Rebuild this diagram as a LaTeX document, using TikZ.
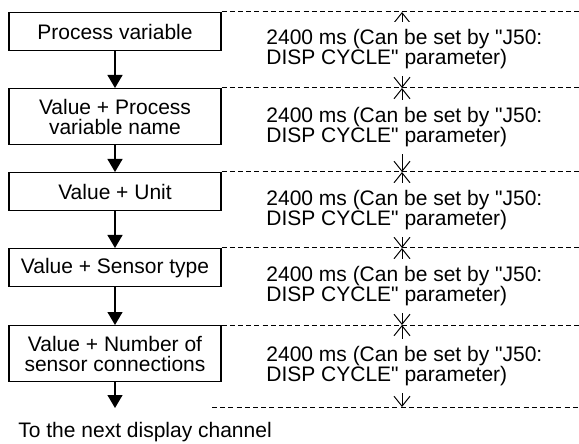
\documentclass[tikz,border=0pt]{standalone}
\usepackage{fontspec}
\setmainfont{Liberation Sans}[Ligatures=TeXOff]
\usetikzlibrary{arrows.meta,positioning}

\begin{document}
\begin{tikzpicture}[x=0.5pt, y=-0.5pt,
    stagebox/.style={draw, line width=0.6pt, minimum width=106pt, minimum height=19pt, inner sep=1pt, align=center, anchor=north, font=\fontsize{10.5}{10}\selectfont},
    tallbox/.style={stagebox, minimum height=28pt},
    flow/.style={-{Triangle[length=6.5pt, width=7.5pt]}, line width=0.6pt},
    guide/.style={dash pattern=on 2.5pt off 1.6pt, line width=0.5pt},
    period/.style={{Straight Barb[length=5pt, width=8pt]}-{Straight Barb[length=5pt, width=8pt]}, line width=0.5pt},
    note/.style={anchor=west, fill=white, inner xsep=1pt, inner ysep=3.5pt, align=left, font=\fontsize{10.5}{10}\selectfont},
]
    \useasboundingbox (0,0) rectangle (579,444);

    % Display sequence
    \node[stagebox] (pv) at (115,12) {Process variable};
    \node[tallbox] (pvname) at (115,88) {Value + Process\\variable name};
    \node[stagebox] (unit) at (115,172) {Value + Unit};
    \node[stagebox] (sensor) at (115,248) {Value + Sensor type};
    \node[tallbox] (conn) at (115,325) {Value + Number of\\sensor connections};
    \coordinate (tip) at (115,408);
    \node[anchor=base west, inner sep=0pt, font=\fontsize{10.5}{10}\selectfont] (next) at (18,437) {To the next display channel};

    \draw[flow] (pv) -- (pvname);
    \draw[flow] (pvname) -- (unit);
    \draw[flow] (unit) -- (sensor);
    \draw[flow] (sensor) -- (conn);
    \draw[flow] (conn) -- (tip);

    % Cycle guides
    \foreach \y [count=\i from 0] in {12,88,172,248,325,407} {
        \coordinate (r\i) at (579,\y);
        \coordinate (m\i) at (402,\y);
    }
    \coordinate (l5) at (212,407);
    \draw[guide] (pv.north east) -- (r0);
    \draw[guide] (pvname.north east) -- (r1);
    \draw[guide] (unit.north east) -- (r2);
    \draw[guide] (sensor.north east) -- (r3);
    \draw[guide] (conn.north east) -- (r4);
    \draw[guide] (l5) -- (r5);

    \foreach \a/\b in {m0/m1, m1/m2, m2/m3, m3/m4, m4/m5}
        \draw[period] (\a) -- (\b);

    % Display times
    \foreach \y [count=\i] in {49,127,210,286,366}
        \node[note] (cycle\i) at (264,\y) {2400 ms (Can be set by "J50:\\DISP CYCLE" parameter)};
\end{tikzpicture}
\end{document}
